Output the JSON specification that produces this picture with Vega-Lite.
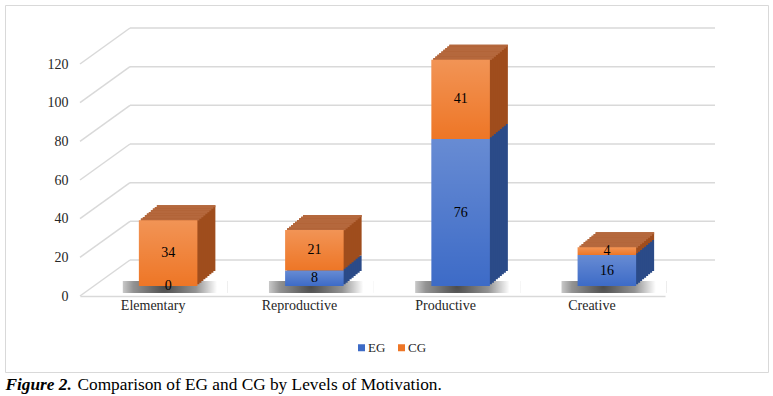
{
  "$schema": "https://vega.github.io/schema/vega-lite/v6.json",
  "width": 763,
  "height": 367,
  "autosize": "none",
  "padding": {"left": 5, "top": 5, "right": 5, "bottom": 24},
  "background": "white",
  "config": {
    "view": {"stroke": "#d9d9d9", "strokeWidth": 1},
    "font": "Liberation Serif"
  },
  "layer": [
    {
      "data": {"values": [{"v": 0}, {"v": 20}, {"v": 40}, {"v": 60}, {"v": 80}, {"v": 100}, {"v": 120}]},
      "mark": {"type": "rule", "color": "#d9d9d9", "strokeWidth": 1.5, "xOffset": 50, "x2Offset": 50, "yOffset": -36},
      "encoding": {
        "x": {"datum": "Elementary", "type": "nominal", "bandPosition": 0},
        "x2": {"datum": "Creative", "bandPosition": 1},
        "y": {"field": "v", "type": "quantitative"}
      }
    },
    {
      "data": {"values": [{"v": 0}, {"v": 20}, {"v": 40}, {"v": 60}, {"v": 80}, {"v": 100}, {"v": 120}]},
      "mark": {"type": "rule", "color": "#d9d9d9", "strokeWidth": 1.5, "x2Offset": 50, "y2Offset": -36},
      "encoding": {
        "x": {"datum": "Elementary", "type": "nominal", "bandPosition": 0},
        "x2": {"datum": "Elementary", "bandPosition": 0},
        "y": {"field": "v", "type": "quantitative"},
        "y2": {"field": "v"}
      }
    },
    {
      "data": {"values": [
        {"level": "Elementary", "group": "EG", "value": 0},
        {"level": "Elementary", "group": "CG", "value": 34},
        {"level": "Reproductive", "group": "EG", "value": 8},
        {"level": "Reproductive", "group": "CG", "value": 21},
        {"level": "Productive", "group": "EG", "value": 76},
        {"level": "Productive", "group": "CG", "value": 41},
        {"level": "Creative", "group": "EG", "value": 16},
        {"level": "Creative", "group": "CG", "value": 4}
      ]},
      "transform": [
        {"stack": "value", "groupby": ["level"], "sort": [{"field": "group", "order": "descending"}], "as": ["v0", "v1"]},
        {"calculate": "(datum.v0 + datum.v1) / 2", "as": "mid"}
      ],
      "encoding": {
        "x": {
          "field": "level", "type": "nominal",
          "scale": {"domain": ["Elementary", "Reproductive", "Productive", "Creative"], "range": [75, 660], "paddingInner": 0, "paddingOuter": 0},
          "axis": {
            "offset": -76, "domain": true, "domainColor": "#d9d9d9", "domainWidth": 1.5, "ticks": false,
            "labelPadding": 9, "labelFont": "Liberation Serif", "labelFontSize": 14, "labelColor": "#262626", "labelAngle": 0, "labelAlign": "center",
            "title": "Comparison of EG and CG by Levels of Motivation.",
            "titleFont": "Liberation Serif", "titleFontSize": 17.3, "titleFontWeight": "normal", "titleColor": "#000000",
            "titleX": 72, "titleY": 93, "titleAlign": "left", "titleBaseline": "alphabetic", "titleAnchor": "start"
          }
        },
        "y": {
          "field": "v1", "type": "quantitative",
          "scale": {"domain": [0, 120], "range": [291, 59]},
          "axis": {
            "offset": -75, "values": [0, 20, 40, 60, 80, 100, 120], "domain": false, "ticks": false, "grid": false,
            "labelPadding": 12, "labelFont": "Liberation Serif", "labelFontSize": 14, "labelColor": "#262626",
            "title": "Figure 2.", "titleFont": "Liberation Serif", "titleFontSize": 17.3, "titleFontStyle": "italic", "titleFontWeight": "bold", "titleColor": "#000000",
            "titleAngle": 0, "titleX": -75, "titleY": 384, "titleAlign": "left", "titleBaseline": "alphabetic"
          }
        },
        "y2": {"field": "v0"}
      },
      "layer": [
        {
          "mark": {"type": "tick", "size": 105, "thickness": 12, "xOffset": 22, "yOffset": -9,
            "color": {"gradient": "radial", "x1": 0.4, "y1": 0.5, "r1": 0, "x2": 0.4, "y2": 0.5, "r2": 0.5,
              "stops": [{"offset": 0, "color": "#404040"}, {"offset": 0.6, "color": "#8c8c8c"}, {"offset": 1, "color": "#ffffff"}]}, "opacity": 0.75},
          "encoding": {"y": {"datum": 0, "type": "quantitative"}, "y2": null}
        },
        {"mark": {"type": "bar", "width": {"band": 0.4}, "xOffset": 33, "yOffset": -25, "y2Offset": -25}, "encoding": {"color": {"condition": {"test": "datum.group === 'EG'", "value": "#2b4b88"}, "value": "#9f4d1d"}}},
        {"mark": {"type": "bar", "width": {"band": 0.4}, "xOffset": 31, "yOffset": -23.3, "y2Offset": -23.3}, "encoding": {"color": {"condition": {"test": "datum.group === 'EG'", "value": "#2b4b88"}, "value": "#9f4d1d"}}},
        {"mark": {"type": "bar", "width": {"band": 0.4}, "xOffset": 29, "yOffset": -21.7, "y2Offset": -21.7}, "encoding": {"color": {"condition": {"test": "datum.group === 'EG'", "value": "#2b4b88"}, "value": "#9f4d1d"}}},
        {"mark": {"type": "bar", "width": {"band": 0.4}, "xOffset": 27, "yOffset": -20, "y2Offset": -20}, "encoding": {"color": {"condition": {"test": "datum.group === 'EG'", "value": "#2b4b88"}, "value": "#9f4d1d"}}},
        {"mark": {"type": "bar", "width": {"band": 0.4}, "xOffset": 25, "yOffset": -18.3, "y2Offset": -18.3}, "encoding": {"color": {"condition": {"test": "datum.group === 'EG'", "value": "#2b4b88"}, "value": "#9f4d1d"}}},
        {"mark": {"type": "bar", "width": {"band": 0.4}, "xOffset": 23, "yOffset": -16.7, "y2Offset": -16.7}, "encoding": {"color": {"condition": {"test": "datum.group === 'EG'", "value": "#2b4b88"}, "value": "#9f4d1d"}}},
        {"mark": {"type": "bar", "width": {"band": 0.4}, "xOffset": 21, "yOffset": -15, "y2Offset": -15}, "encoding": {"color": {"condition": {"test": "datum.group === 'EG'", "value": "#2b4b88"}, "value": "#9f4d1d"}}},
        {"mark": {"type": "bar", "width": {"band": 0.4}, "xOffset": 19, "yOffset": -13.3, "y2Offset": -13.3}, "encoding": {"color": {"condition": {"test": "datum.group === 'EG'", "value": "#2b4b88"}, "value": "#9f4d1d"}}},
        {"mark": {"type": "bar", "width": {"band": 0.4}, "xOffset": 17, "yOffset": -11.7, "y2Offset": -11.7}, "encoding": {"color": {"condition": {"test": "datum.group === 'EG'", "value": "#2b4b88"}, "value": "#9f4d1d"}}},
        {"transform": [{"filter": "datum.group === 'CG'"}], "mark": {"type": "bar", "width": {"band": 0.4}, "color": "#b5683d", "xOffset": 33, "yOffset": -25, "y2Offset": -23}, "encoding": {"y2": {"field": "v1"}}},
        {"transform": [{"filter": "datum.group === 'CG'"}], "mark": {"type": "bar", "width": {"band": 0.4}, "color": "#b5683d", "xOffset": 31, "yOffset": -23.3, "y2Offset": -21.4}, "encoding": {"y2": {"field": "v1"}}},
        {"transform": [{"filter": "datum.group === 'CG'"}], "mark": {"type": "bar", "width": {"band": 0.4}, "color": "#b5683d", "xOffset": 29, "yOffset": -21.7, "y2Offset": -19.7}, "encoding": {"y2": {"field": "v1"}}},
        {"transform": [{"filter": "datum.group === 'CG'"}], "mark": {"type": "bar", "width": {"band": 0.4}, "color": "#b5683d", "xOffset": 27, "yOffset": -20, "y2Offset": -18}, "encoding": {"y2": {"field": "v1"}}},
        {"transform": [{"filter": "datum.group === 'CG'"}], "mark": {"type": "bar", "width": {"band": 0.4}, "color": "#b5683d", "xOffset": 25, "yOffset": -18.3, "y2Offset": -16.4}, "encoding": {"y2": {"field": "v1"}}},
        {"transform": [{"filter": "datum.group === 'CG'"}], "mark": {"type": "bar", "width": {"band": 0.4}, "color": "#b5683d", "xOffset": 23, "yOffset": -16.7, "y2Offset": -14.7}, "encoding": {"y2": {"field": "v1"}}},
        {"transform": [{"filter": "datum.group === 'CG'"}], "mark": {"type": "bar", "width": {"band": 0.4}, "color": "#b5683d", "xOffset": 21, "yOffset": -15, "y2Offset": -13}, "encoding": {"y2": {"field": "v1"}}},
        {"transform": [{"filter": "datum.group === 'CG'"}], "mark": {"type": "bar", "width": {"band": 0.4}, "color": "#b5683d", "xOffset": 19, "yOffset": -13.3, "y2Offset": -11.4}, "encoding": {"y2": {"field": "v1"}}},
        {"transform": [{"filter": "datum.group === 'CG'"}], "mark": {"type": "bar", "width": {"band": 0.4}, "color": "#b5683d", "xOffset": 17, "yOffset": -11.7, "y2Offset": -9.7}, "encoding": {"y2": {"field": "v1"}}},
        {
          "mark": {"type": "bar", "width": {"band": 0.4}, "xOffset": 15, "yOffset": -10, "y2Offset": -10},
          "encoding": {
            "color": {
              "field": "group", "type": "nominal",
              "scale": {"domain": ["EG", "CG"], "range": ["#3d6bc7", "#ee7626"]},
              "legend": {
                "orient": "none", "legendX": 350, "legendY": 336, "direction": "horizontal", "title": null,
                "symbolType": "square", "symbolSize": 49, "symbolStrokeWidth": 0,
                "labelFont": "Liberation Serif", "labelFontSize": 13, "labelColor": "#262626", "labelOffset": 0, "columnPadding": 9
              }
            }
          }
        },
        {
          "mark": {"type": "bar", "width": {"band": 0.4}, "xOffset": 15, "yOffset": -10, "y2Offset": -10,
            "color": {"gradient": "linear", "x1": 0, "y1": 0, "x2": 0, "y2": 1,
              "stops": [{"offset": 0, "color": "rgba(255,255,255,0.22)"}, {"offset": 1, "color": "rgba(255,255,255,0)"}]}}
        },
        {
          "mark": {"type": "text", "xOffset": 15, "yOffset": -10, "font": "Liberation Serif", "fontSize": 14, "color": "#000000", "baseline": "middle"},
          "encoding": {"y": {"field": "mid", "type": "quantitative"}, "y2": null, "text": {"field": "value", "type": "quantitative"}}
        }
      ]
    }
  ]
}
